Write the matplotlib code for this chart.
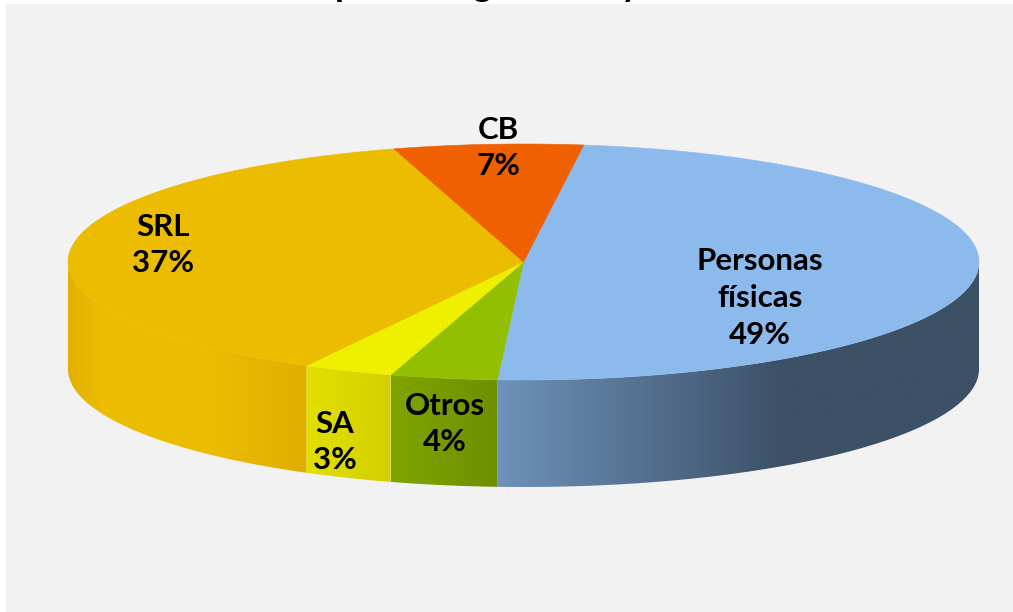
import numpy as np
import matplotlib
matplotlib.use('Agg')
import matplotlib.pyplot as plt
from matplotlib.colors import LinearSegmentedColormap
from matplotlib.patches import Polygon, Rectangle

# slices, clockwise from the top right edge
categories = ['Personas\nfísicas', 'Otros', 'SA', 'SRL', 'CB']
shares = [48.8, 3.8, 3.2, 37.5, 6.7]
share_labels = ['49%', '4%', '3%', '37%', '7%']

top_colors = ['#8DBAEC', '#92C000', '#EFEF00', '#ECBC00', '#EE6000']
side_colors = [
    [(0.0, '#6E92BA'), (0.6, '#3C5066'), (1.0, '#3C5066')],
    [(0.0, '#80A400'), (1.0, '#6E8F00')],
    [(0.0, '#E2E000'), (1.0, '#D2CF00')],
    [(0.0, '#E2B000'), (0.14, '#ECBC00'), (0.6, '#ECBC00'), (1.0, '#E0AE00')],
    [(0.0, '#EE6000'), (1.0, '#EE6000')],
]

# where each label sits
label_x = [760, 445, 335, 163, 498]
label_y = [298, 424, 442, 245, 148]

# only the bottom of the title is left in the crop
title_bits = ['p', 'g', 'y']
title_x = [345, 482, 630]

# pie geometry in pixels
CX, CY = 523.5, 262
RX, RY = 455.5, 118
DEPTH = 107
START = 82.4
FONT = 'Lato'
BG = '#F2F2F2'


def arc(a0, a1, dy=0.0):
    t = np.radians(np.linspace(a0, a1, 200))
    return np.column_stack([CX + RX * np.cos(t), CY + dy - RY * np.sin(t)])


fig = plt.figure(figsize=(10.13, 6.12), dpi=100, facecolor='white')
ax = fig.add_axes([0, 0, 1, 1])
ax.set_xlim(0, 1013)
ax.set_ylim(612, 0)
ax.axis('off')

ax.add_patch(Rectangle((6, 4), 1007, 608, facecolor=BG, edgecolor='none', zorder=0))

for s, x in zip(title_bits, title_x):
    ax.text(x, -4.5, s, fontsize=26, fontweight='bold', family=FONT, ha='center',
            va='baseline', color='black', clip_on=False, zorder=1)

# angle bounds of the slices
edges = START - np.cumsum([0] + shares) * 3.6

# sides first, only the front half shows
for i in range(len(shares)):
    hi = min(edges[i], 0)
    lo = max(edges[i + 1], -180)
    if hi <= lo:
        continue
    poly = np.vstack([arc(lo, hi), arc(hi, lo, DEPTH)])
    x0, x1 = poly[:, 0].min(), poly[:, 0].max()
    cmap = LinearSegmentedColormap.from_list('side%d' % i, side_colors[i])
    im = ax.imshow(np.linspace(0, 1, 256).reshape(1, -1), cmap=cmap, aspect='auto',
                   extent=[x0, x1, CY + RY + DEPTH + 2, CY - 2], zorder=2, vmin=0, vmax=1)
    im.set_clip_path(Polygon(poly, closed=True, transform=ax.transData))

ax.set_xlim(0, 1013)
ax.set_ylim(612, 0)

# top of the pie
for i in range(len(shares)):
    pts = np.vstack([[CX, CY], arc(edges[i], edges[i + 1])])
    ax.add_patch(Polygon(pts, closed=True, facecolor=top_colors[i],
                         edgecolor=top_colors[i], linewidth=0.4, zorder=3))

for name, share, x, y in zip(categories, share_labels, label_x, label_y):
    ax.text(x, y, name + '\n' + share, fontsize=22.5, fontweight='bold', family=FONT,
            ha='center', va='center', linespacing=1.39, color='black', zorder=4)

fig.savefig('out.png', dpi=100, facecolor=fig.get_facecolor())
